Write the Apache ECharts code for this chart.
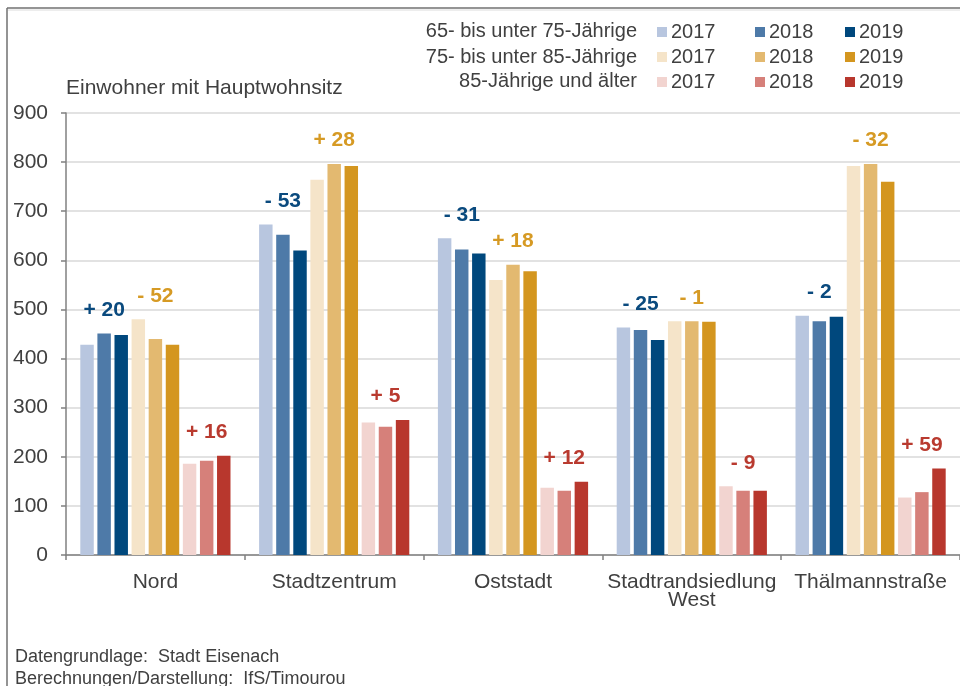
<!DOCTYPE html>
<html>
<head>
<meta charset="utf-8">
<script src="https://cdn.jsdelivr.net/npm/echarts@6/dist/echarts.min.js"></script>
<style>
  html, body { margin: 0; padding: 0; background: #ffffff; }
  #chart { width: 960px; height: 686px; }
</style>
</head>
<body>
<div id="chart"></div>
<script>
// Districts (category axis)
const districts = ['Nord', 'Stadtzentrum', 'Oststadt', 'Stadtrandsiedlung\nWest', 'Thälmannstraße'];
const years = ['2017', '2018', '2019'];
const ageGroups = ['65- bis unter 75-Jährige', '75- bis unter 85-Jährige', '85-Jährige und älter'];

// Residents with main residence, per district and year
const age65_2017 = [428, 673, 645, 463, 487];
const age65_2018 = [451, 652, 622, 458, 476];
const age65_2019 = [448, 620, 614, 438, 485];

const age75_2017 = [480, 764, 560, 476, 792];
const age75_2018 = [440, 796, 591, 476, 796];
const age75_2019 = [428, 792, 578, 475, 760];

const age85_2017 = [186, 270, 137, 140, 117];
const age85_2018 = [192, 261, 131, 131, 128];
const age85_2019 = [202, 275, 149, 131, 176];

// Y axis ticks
const yMin = 0, yMax = 900, yStep = 100;

const groupValues = [
  [age65_2017, age65_2018, age65_2019],
  [age75_2017, age75_2018, age75_2019],
  [age85_2017, age85_2018, age85_2019]
];
const groupColors = [
  ['#b8c6df', '#4e7aa8', '#00487d'],
  ['#f5e4c9', '#e3b970', '#d4961f'],
  ['#f2d4d0', '#d6807a', '#b8372d']
];
const diffColors = ['#0a4a7e', '#d69a24', '#b93a2f'];

const FONT = '"Liberation Sans", Arial, sans-serif';
const TEXT = '#404040';
const CAT_GAP = 0.16;   // share of a category left empty
const BAR_GAP = 0.27;   // gap between bars, relative to bar width
const NBARS = 9;

const series = [];
groupValues.forEach((grp, g) => {
  grp.forEach((vals, y) => {
    series.push({
      type: 'bar',
      name: 'G' + g + ' ' + years[y],
      data: vals,
      itemStyle: { color: groupColors[g][y] },
      barGap: (BAR_GAP * 100) + '%',
      barCategoryGap: (CAT_GAP * 100) + '%',
      emphasis: { disabled: true },
      animation: false
    });
  });
});

// Change 2017 -> 2019 per age group, written above each group of three bars
const diffData = [];
groupValues.forEach((grp, g) => {
  districts.forEach((d, i) => {
    const top = Math.max(grp[0][i], grp[1][i], grp[2][i]);
    const diff = grp[2][i] - grp[0][i];
    diffData.push([i, top, diff, g]);
  });
});

series.push({
  type: 'custom',
  name: 'diff',
  data: diffData,
  silent: true,
  animation: false,
  z: 10,
  renderItem: function (params, api) {
    const cat = api.value(0);
    const top = api.value(1);
    const diff = api.value(2);
    const g = api.value(3);
    const p = api.coord([cat, top]);
    const band = api.size([1, 0])[0];
    const barW = band * (1 - CAT_GAP) / (NBARS + (NBARS - 1) * BAR_GAP);
    const step = barW * (1 + BAR_GAP);
    const mid = 3 * g + 1;
    const x = p[0] + (mid - (NBARS - 1) / 2) * step;
    const text = (diff >= 0 ? '+ ' : '- ') + Math.abs(diff);
    return {
      type: 'text',
      style: {
        text: text,
        x: x,
        y: p[1] - 13,
        textAlign: 'center',
        textVerticalAlign: 'bottom',
        fill: diffColors[g],
        font: 'bold 21px ' + FONT
      }
    };
  }
});

// One vertical legend column per year
const legendLefts = [657, 755, 845];
const legends = years.map((yr, y) => ({
  orient: 'vertical',
  left: legendLefts[y],
  top: 22,
  padding: 0,
  itemWidth: 10,
  itemHeight: 10,
  itemGap: 5,
  icon: 'rect',
  selectedMode: false,
  data: ageGroups.map((a, g) => 'G' + g + ' ' + yr),
  formatter: name => name.slice(-4),
  textStyle: { fontFamily: FONT, fontSize: 20, color: TEXT, lineHeight: 20, padding: [0, 0, 0, -1] }
}));

const rowCenters = [31, 57, 81];
const graphics = [
  // frame
  { type: 'line', shape: { x1: 7, y1: 8, x2: 960, y2: 8 }, style: { stroke: '#707070', lineWidth: 1.5 } },
  { type: 'line', shape: { x1: 7, y1: 8, x2: 7, y2: 686 }, style: { stroke: '#707070', lineWidth: 1.5 } },
  { type: 'line', shape: { x1: 8, y1: 10, x2: 960, y2: 10 }, style: { stroke: '#dcdcdc', lineWidth: 1 } },
  // y axis title
  { type: 'text', left: 66, top: 78, style: { text: 'Einwohner mit Hauptwohnsitz', font: '21px ' + FONT, fill: TEXT } },
  // source notes
  { type: 'text', left: 15, top: 648, style: { text: 'Datengrundlage:  Stadt Eisenach', font: '18px ' + FONT, fill: TEXT } },
  { type: 'text', left: 15, top: 670, style: { text: 'Berechnungen/Darstellung:  IfS/Timourou', font: '18px ' + FONT, fill: TEXT } }
];
ageGroups.forEach((a, g) => {
  graphics.push({
    type: 'text',
    style: {
      text: a, x: 637, y: rowCenters[g],
      textAlign: 'right', textVerticalAlign: 'middle',
      font: '20px ' + FONT, fill: TEXT
    }
  });
});

const chart = echarts.init(document.getElementById('chart'), null, { renderer: 'canvas' });
chart.setOption({
  backgroundColor: '#ffffff',
  animation: false,
  grid: { left: 66, right: -6, top: 113, bottom: 131, containLabel: false },
  legend: legends,
  xAxis: {
    type: 'category',
    data: districts,
    axisLine: { show: true, lineStyle: { color: '#808080', width: 1.5 } },
    axisTick: { show: true, length: 5, lineStyle: { color: '#808080', width: 1.5 } },
    axisLabel: { fontFamily: FONT, fontSize: 21, color: TEXT, margin: 18, lineHeight: 18, interval: 0 }
  },
  yAxis: {
    type: 'value',
    min: yMin,
    max: yMax,
    interval: yStep,
    axisLine: { show: true, lineStyle: { color: '#808080', width: 1.5 } },
    axisTick: { show: true, length: 5, lineStyle: { color: '#808080', width: 1.5 } },
    axisLabel: { fontFamily: FONT, fontSize: 21, color: TEXT, margin: 18 },
    splitLine: { show: true, lineStyle: { color: '#d9d9d9', width: 1.5 } }
  },
  graphic: graphics,
  series: series
});
</script>
</body>
</html>
